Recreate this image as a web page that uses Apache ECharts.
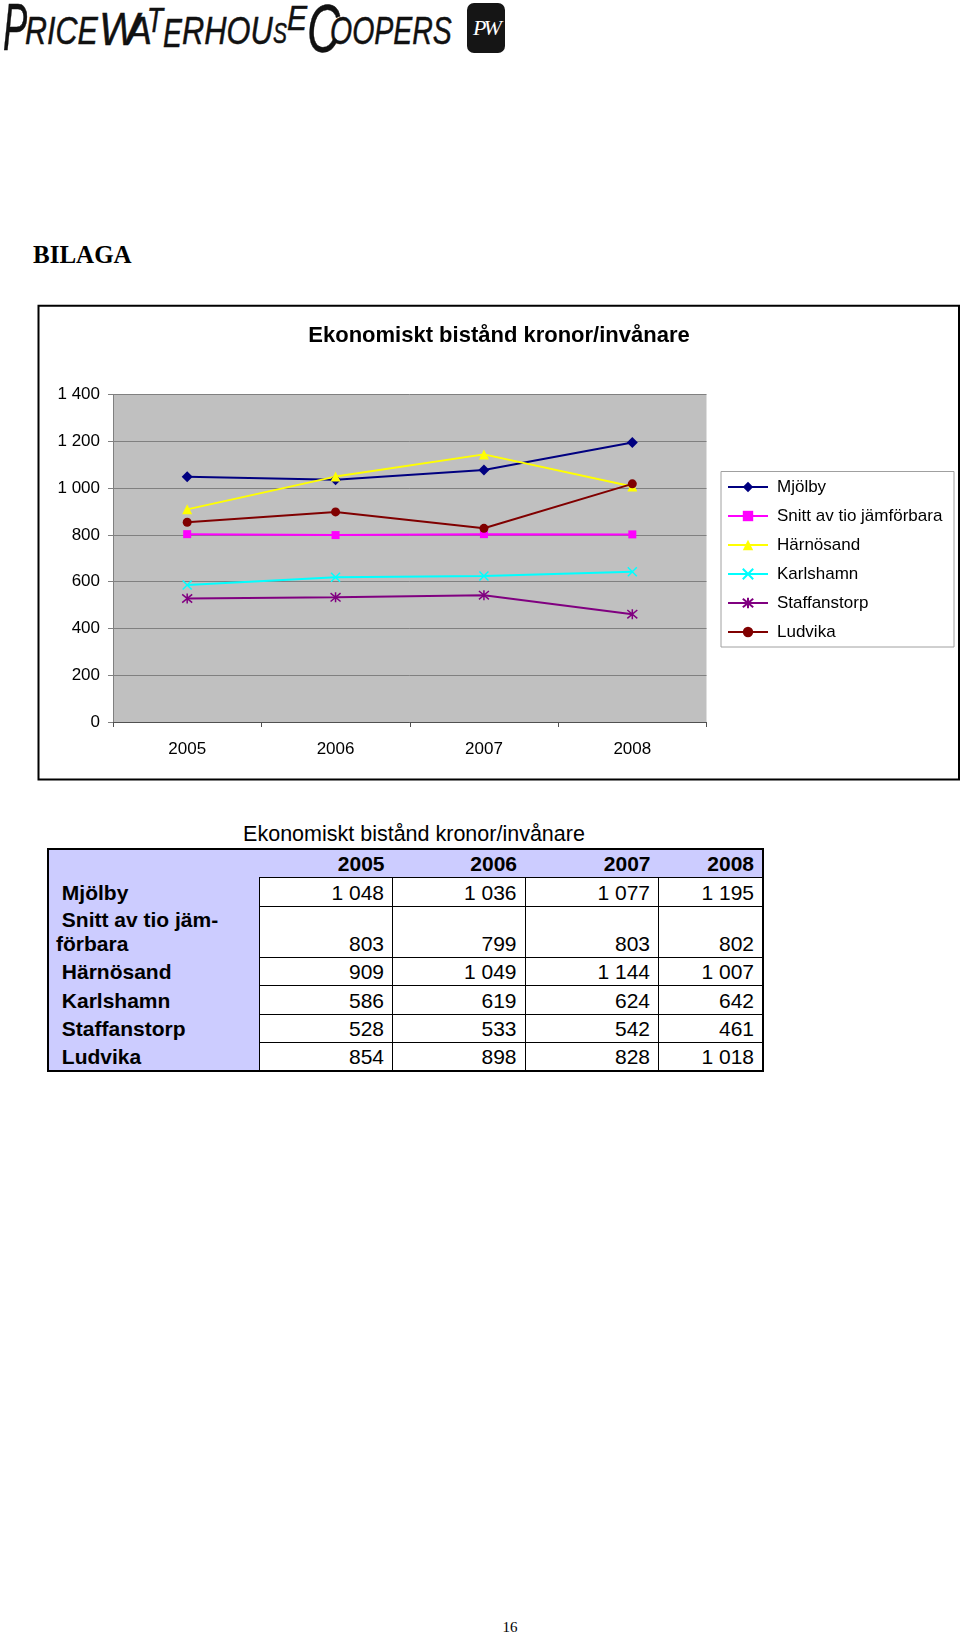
<!DOCTYPE html>
<html>
<head>
<meta charset="utf-8">
<script src="https://cdn.jsdelivr.net/npm/echarts@6/dist/echarts.min.js"></script>
<style>
  html, body { margin:0; padding:0; background:#fff; }
  body { width:960px; height:1636px; position:relative; overflow:hidden; font-family:"Liberation Sans", Arial, sans-serif; }
  #logo { position:absolute; left:0; top:0; height:70px; width:466px; white-space:nowrap; font-family:"Liberation Sans", sans-serif;
          font-style:italic; color:#111; -webkit-text-stroke:0.5px #111; }
  #logo span { position:absolute; line-height:1; transform-origin:left top; }
  #pwbox { position:absolute; left:467px; top:3px; width:38px; height:50px; background:#151515; border-radius:7px; color:#fff;
           font-family:"Liberation Serif", serif; font-style:italic; font-size:22px; line-height:50px; text-align:center; letter-spacing:-3px; }
  #bilaga { position:absolute; left:33px; top:240px; font-family:"Liberation Serif", serif; font-weight:bold; font-size:25px; line-height:30px; }
  #chart { position:absolute; left:0; top:280px; width:960px; height:520px; }
  #caption { position:absolute; left:47px; width:734px; top:821px; text-align:center; font-size:21.5px; line-height:26px; }
  #tbl { position:absolute; left:47px; top:848px; border-collapse:collapse; table-layout:fixed; font-size:21px; border:2px solid #000; }
  #tbl td { padding:0 8px 1px 7px; vertical-align:bottom; line-height:24px; white-space:pre; overflow:hidden; }
  #tbl td.lab { background:#ccccff; font-weight:bold; text-align:left; }
  #tbl td.num { background:#fff; text-align:right; border:1px solid #000; }
  #tbl tr.head td { background:#ccccff; font-weight:bold; text-align:right; }
  #page { position:absolute; left:490px; width:40px; top:1619px; text-align:center; font-family:"Liberation Serif", serif; font-size:15px; }
</style>
</head>
<body>
<div id="logo">
  <span style="left:3px;top:-5.9px;font-size:66px;transform:scaleX(0.55);">P</span>
  <span style="left:25px;top:11px;font-size:39px;transform:scaleX(0.78);">RICE</span>
  <span style="left:99px;top:6px;font-size:46px;transform:scaleX(0.92);">W</span>
  <span style="left:127px;top:11px;font-size:39px;transform:scaleX(0.96);">A</span>
  <span style="left:147px;top:2.4px;font-size:35px;transform:scaleX(0.75);">T</span>
  <span style="left:163px;top:13px;font-size:40px;transform:scaleX(0.71);">E</span>
  <span style="left:182px;top:11px;font-size:39px;transform:scaleX(0.79);">RHOU</span>
  <span style="left:273px;top:18.5px;font-size:29px;transform:scaleX(0.72);">S</span>
  <span style="left:287px;top:0.4px;font-size:35px;transform:scaleX(0.86);">E</span>
  <span style="left:307px;top:-6.4px;font-size:69px;transform:scaleX(0.66);">C</span>
  <span style="left:330px;top:11px;font-size:39px;transform:scaleX(0.73);">OOPERS</span>
</div>
<div id="pwbox">PW</div>
<div id="bilaga">BILAGA</div>
<div id="chart"></div>
<div id="caption">Ekonomiskt bistånd kronor/invånare</div>
<table id="tbl"></table>
<div id="page">16</div>

<script>
  var chartTitle = 'Ekonomiskt bistånd kronor/invånare';
  var years = ['2005', '2006', '2007', '2008'];
  var seriesNames = ['Mjölby', 'Snitt av tio jämförbara', 'Härnösand', 'Karlshamn', 'Staffanstorp', 'Ludvika'];
  var mjolby = [1048, 1036, 1077, 1195];
  var snitt = [803, 799, 803, 802];
  var harnosand = [909, 1049, 1144, 1007];
  var karlshamn = [586, 619, 624, 642];
  var staffanstorp = [528, 533, 542, 461];
  var ludvika = [854, 898, 828, 1018];
  var yTicks = [0, 200, 400, 600, 800, 1000, 1200, 1400];
  var seriesData = [mjolby, snitt, harnosand, karlshamn, staffanstorp, ludvika];

  // color, symbol, size, stroked marker?
  var looks = [
    ['#000080', 'diamond', 11, false],
    ['#ff00ff', 'rect', 8, false],
    ['#ffff00', 'triangle', 10, false],
    ['#00ffff', 'path://M0,0L10,10M10,0L0,10', 9, true],
    ['#800080', 'path://M0,0L10,10M10,0L0,10M5,-1L5,11', 10, true],
    ['#800000', 'circle', 9, false]
  ];

  function fmt(v) {
    return String(v).replace(/\B(?=(\d{3})+(?!\d))/g, ' ');
  }

  var chart = echarts.init(document.getElementById('chart'));
  chart.setOption({
    animation: false,
    textStyle: { fontFamily: 'Liberation Sans, Arial, sans-serif' },
    graphic: [
      { type:'rect', z:0, shape:{ x:38.5, y:25.7, width:920.5, height:473.8 }, style:{ fill:'none', stroke:'#000', lineWidth:2 } },
      { type:'rect', z:1, shape:{ x:721, y:191.5, width:233, height:175.5 }, style:{ fill:'#fff', stroke:'#a0a0a0', lineWidth:1 } },
      { type:'text', z:5, x:499, y:56, style:{ text: chartTitle, fill:'#000', font:'bold 22px "Liberation Sans", Arial, sans-serif', textAlign:'center', textVerticalAlign:'middle' } }
    ],
    legend: {
      orient: 'vertical', left: 727, top: 198.5, padding: 0,
      itemWidth: 40, itemHeight: 13, itemGap: 12,
      textStyle: { fontSize: 17, color: '#000', padding: [0, 0, 0, 4] },
      data: seriesNames
    },
    grid: { left: 113, right: 253.5, top: 114.5, bottom: 78, show: true, backgroundColor: '#c0c0c0', borderWidth: 0 },
    xAxis: {
      type: 'category', data: years, boundaryGap: true,
      axisLine: { lineStyle: { color: '#505050', width: 1 } },
      axisTick: { show: true, length: 5, lineStyle: { color: '#505050' } },
      axisLabel: { fontSize: 17, color: '#000', margin: 19 }
    },
    yAxis: {
      type: 'value', min: yTicks[0], max: yTicks[yTicks.length - 1], interval: 200,
      axisLine: { show: true, lineStyle: { color: '#808080' } },
      axisTick: { show: true, length: 5, lineStyle: { color: '#808080' } },
      axisLabel: { fontSize: 17, color: '#000', margin: 13, formatter: fmt },
      splitLine: { lineStyle: { color: '#808080', width: 1 } }
    },
    series: seriesNames.map(function (name, i) {
      var lk = looks[i];
      return {
        name: name, type: 'line', data: seriesData[i],
        symbol: lk[1], symbolSize: lk[2], showSymbol: true,
        lineStyle: { color: lk[0], width: 2 },
        itemStyle: { color: lk[0], borderColor: lk[0], borderWidth: lk[3] ? 1.5 : 0 },
        emphasis: { disabled: true }
      };
    })
  });

  // table under the chart, built from the same arrays
  var rowLabels = [' Mjölby', ' Snitt av tio jäm-\nförbara', ' Härnösand', ' Karlshamn', ' Staffanstorp', ' Ludvika'];
  var colW = [211, 133.5, 132.5, 133.5, 104.5];
  var rowH = [29, 51, 28, 29, 28, 29];
  var tbl = document.getElementById('tbl');
  var html = '<colgroup>' + colW.map(function (w) { return '<col style="width:' + w + 'px">'; }).join('') + '</colgroup>';
  html += '<tr class="head" style="height:28px"><td></td>' + years.map(function (y) { return '<td>' + y + '</td>'; }).join('') + '</tr>';
  seriesData.forEach(function (vals, i) {
    html += '<tr style="height:' + rowH[i] + 'px"><td class="lab">' + rowLabels[i] + '</td>' +
      vals.map(function (v) { return '<td class="num">' + fmt(v) + '</td>'; }).join('') + '</tr>';
  });
  tbl.innerHTML = html;
</script>
</body>
</html>
